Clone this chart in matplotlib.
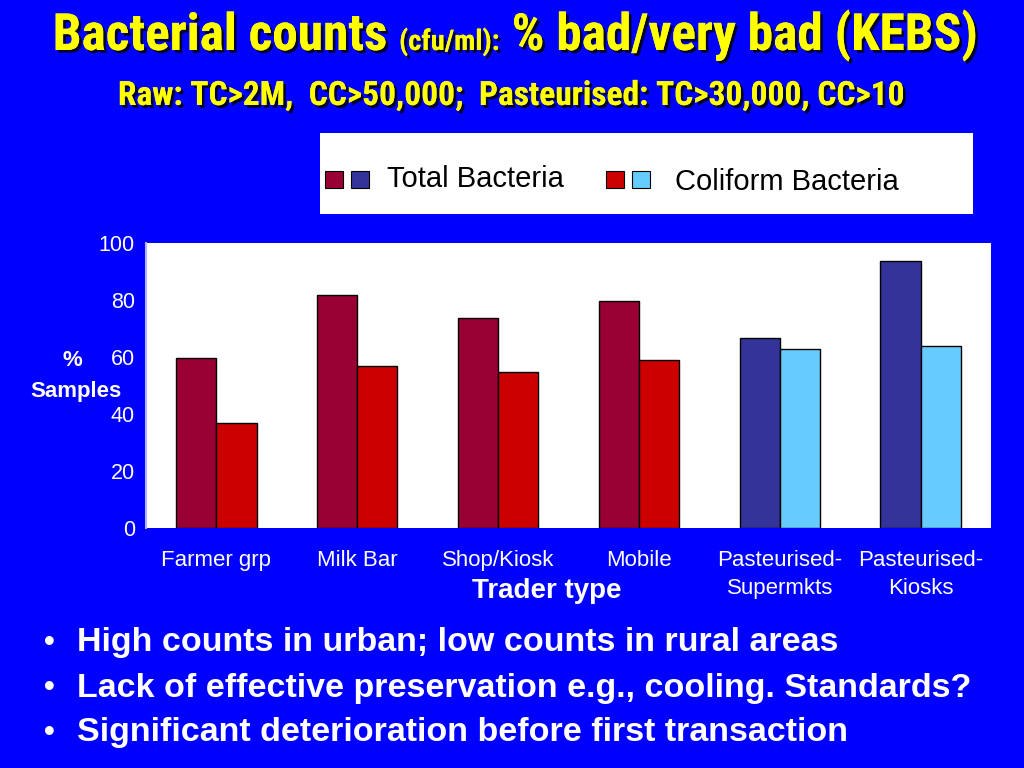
import matplotlib
matplotlib.use('Agg')
import matplotlib.pyplot as plt
import matplotlib.patheffects as pe
from matplotlib.patches import Rectangle
import numpy as np

categories = ['Farmer grp', 'Milk Bar', 'Shop/Kiosk', 'Mobile',
              'Pasteurised-\nSupermkts', 'Pasteurised-\nKiosks']
total_bacteria = [59.6, 81.9, 73.6, 79.5, 66.6, 93.7]
coliform_bacteria = [36.8, 56.8, 54.6, 59.1, 62.8, 63.8]
milk_kind = ['raw', 'raw', 'raw', 'raw', 'pasteurised', 'pasteurised']
yticks = [0, 20, 40, 60, 80, 100]
legend_labels = ['Total Bacteria', 'Coliform Bacteria']
bullets = ['High counts in urban; low counts in rural areas',
           'Lack of effective preservation e.g., cooling. Standards?',
           'Significant deterioration before first transaction']

BG = '#0000FF'
TOTAL_COL = {'raw': '#990033', 'pasteurised': '#333399'}
COLI_COL = {'raw': '#CC0000', 'pasteurised': '#66CCFF'}
NARROW = ['Liberation Sans Narrow', 'Arimo Narrow', 'Roboto Condensed',
          'Archivo Narrow', 'PT Sans Narrow', 'Liberation Sans', 'DejaVu Sans']
SANS = ['Liberation Sans', 'DejaVu Sans']

W, H = 1024, 768
fig = plt.figure(figsize=(W / 100, H / 100), dpi=100, facecolor=BG)


def px(x, y):
    return x / W, 1 - y / H


# ---- axes ----
ax = fig.add_axes([146 / W, 1 - 528 / H, 845 / W, 285 / H])
ax.set_facecolor('white')
x = np.arange(len(categories))
bw = 0.285
ax.bar(x - bw / 2, total_bacteria, bw, color=[TOTAL_COL[k] for k in milk_kind],
       edgecolor='black', linewidth=1.0)
ax.bar(x + bw / 2, coliform_bacteria, bw, color=[COLI_COL[k] for k in milk_kind],
       edgecolor='black', linewidth=1.0)
ax.set_xlim(-0.5, len(categories) - 0.5)
ax.set_ylim(0, 100)
ax.set_yticks(yticks)
ax.set_yticklabels([str(v) for v in yticks], family=SANS, fontsize=15.5, color='white')
ax.set_xticks(x)
ax.set_xticklabels(categories, family=SANS, fontsize=16, color='white', linespacing=1.4)
ax.tick_params(axis='both', length=0)
ax.tick_params(axis='y', pad=8)
ax.tick_params(axis='x', pad=16)
for s in ['top', 'right', 'bottom']:
    ax.spines[s].set_visible(False)
ax.spines['left'].set_color('#B0B0FF')
ax.spines['left'].set_linewidth(1.5)

fig.text(*px(72, 360), '%', family=SANS, fontsize=16, fontweight='bold', color='white',
         ha='center', va='center')
fig.text(*px(76, 391), 'Samples', family=SANS, fontsize=16, fontweight='bold', color='white',
         ha='center', va='center')
fig.text(*px(547, 591), 'Trader type', family=SANS, fontsize=20, fontweight='bold',
         color='white', ha='center', va='center')

# ---- legend ----
fig.patches.append(Rectangle(px(320, 214), 653 / W, 81 / H, transform=fig.transFigure,
                             facecolor='white', edgecolor='none'))
sq_w, sq_h = 18 / W, 17 / H
for (sx, col) in [(325, TOTAL_COL['raw']), (351, TOTAL_COL['pasteurised']),
                  (606, COLI_COL['raw']), (632, COLI_COL['pasteurised'])]:
    fig.patches.append(Rectangle(px(sx, 188), sq_w, sq_h, transform=fig.transFigure,
                                 facecolor=col, edgecolor='black', linewidth=0.8))
fig.text(*px(387, 179), legend_labels[0], family=SANS, fontsize=21, color='black',
         ha='left', va='center')
fig.text(*px(675, 182), legend_labels[1], family=SANS, fontsize=21, color='black',
         ha='left', va='center')

# ---- title ----
shadow = [pe.withSimplePatchShadow(offset=(2, -2), shadow_rgbFace='black', alpha=0.8),
          pe.Normal()]
parts = [('Bacterial counts ', 36), ('(cfu/ml):', 20), (' % bad/very bad (KEBS)', 36)]
texts = []
for s, fs in parts:
    t = fig.text(0, 1 - 50 / H, s, family=NARROW, fontsize=fs, fontweight='bold',
                 color='#FFFF00', ha='left', va='baseline', path_effects=shadow)
    texts.append(t)
sub = fig.text(*px(512, 96), 'Raw: TC>2M,  CC>50,000;  Pasteurised: TC>30,000, CC>10',
               family=NARROW, fontsize=20, fontweight='bold', color='#FFFF00',
               ha='center', va='center', path_effects=shadow)
fig.canvas.draw()
r = fig.canvas.get_renderer()
total_w = sum(t.get_window_extent(r).width for t in texts)
k = 926 / total_w
for (s, fs), t in zip(parts, texts):
    t.set_fontsize(fs * k)
sw = sub.get_window_extent(r).width
sub.set_fontsize(20 * 785 / sw)
fig.canvas.draw()
widths = [t.get_window_extent(r).width for t in texts]
cur = 515 - sum(widths) / 2
for t, wd in zip(texts, widths):
    t.set_x(cur / W)
    cur += wd

# ---- bullets ----
for i, b in enumerate(bullets):
    yy = 643 + 45 * i
    fig.text(*px(49, yy), '\u2022', family=SANS, fontsize=22, fontweight='bold',
             color='white', ha='center', va='center')
    fig.text(*px(77, yy), b, family=SANS, fontsize=24.5, fontweight='bold',
             color='white', ha='left', va='center')

fig.savefig('out.png', dpi=100, facecolor=BG)
